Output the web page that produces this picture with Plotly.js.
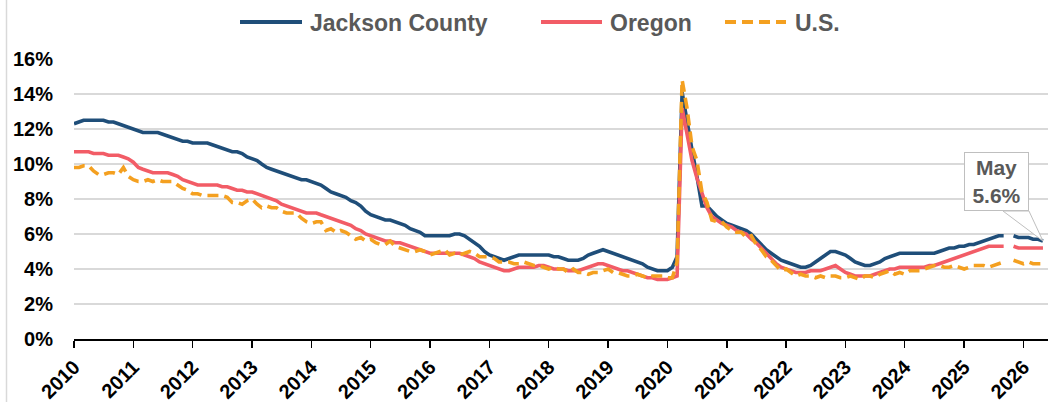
<!DOCTYPE html>
<html>
<head>
<meta charset="utf-8">
<script src="https://cdn.plot.ly/plotly-3.0.1.min.js"></script>
<style>
html,body{margin:0;padding:0;background:#fff;}
#chart{width:1062px;height:402px;}
</style>
</head>
<body>
<div id="chart"></div>
<script>
// Monthly unemployment rate (%), Jan 2010 - May 2026 (Oct 2025 not published)
var startYear = 2010;
var seriesNames = ["Jackson County", "Oregon", "U.S."];
var jackson = [
12.3,12.4,12.5,12.5,12.5,12.5,12.5,12.4,12.4,12.3,12.2,12.1,
12.0,11.9,11.8,11.8,11.8,11.8,11.7,11.6,11.5,11.4,11.3,11.3,
11.2,11.2,11.2,11.2,11.1,11.0,10.9,10.8,10.7,10.7,10.6,10.4,
10.3,10.2,10.0,9.8,9.7,9.6,9.5,9.4,9.3,9.2,9.1,9.1,
9.0,8.9,8.8,8.6,8.4,8.3,8.2,8.1,7.9,7.8,7.6,7.3,
7.1,7.0,6.9,6.8,6.8,6.7,6.6,6.5,6.3,6.2,6.1,5.9,
5.9,5.9,5.9,5.9,5.9,6.0,6.0,5.9,5.7,5.5,5.3,5.0,
4.8,4.7,4.6,4.5,4.6,4.7,4.8,4.8,4.8,4.8,4.8,4.8,
4.8,4.7,4.7,4.6,4.5,4.5,4.5,4.6,4.8,4.9,5.0,5.1,
5.0,4.9,4.8,4.7,4.6,4.5,4.4,4.3,4.1,4.0,3.9,3.9,
3.9,4.1,4.7,14.1,12.4,10.8,9.3,7.6,7.6,7.3,7.0,6.8,
6.6,6.5,6.4,6.3,6.2,6.0,5.7,5.4,5.1,4.9,4.7,4.5,
4.4,4.3,4.2,4.1,4.1,4.2,4.4,4.6,4.8,5.0,5.0,4.9,
4.8,4.6,4.4,4.3,4.2,4.2,4.3,4.4,4.6,4.7,4.8,4.9,
4.9,4.9,4.9,4.9,4.9,4.9,4.9,5.0,5.1,5.2,5.2,5.3,
5.3,5.4,5.4,5.5,5.6,5.7,5.8,5.9,5.9,null,5.9,5.8,
5.8,5.8,5.7,5.7,5.6
];
var oregon = [
10.7,10.7,10.7,10.7,10.6,10.6,10.6,10.5,10.5,10.5,10.4,10.3,
10.1,9.8,9.7,9.6,9.5,9.5,9.5,9.5,9.4,9.3,9.1,9.0,
8.9,8.8,8.8,8.8,8.8,8.8,8.7,8.7,8.6,8.5,8.5,8.4,
8.4,8.3,8.2,8.1,8.0,7.9,7.7,7.6,7.5,7.4,7.3,7.2,
7.2,7.2,7.1,7.0,6.9,6.8,6.7,6.6,6.5,6.3,6.2,6.0,
5.9,5.8,5.7,5.6,5.6,5.5,5.5,5.4,5.3,5.2,5.1,5.0,
4.9,4.9,4.9,4.9,4.9,4.9,4.9,4.8,4.7,4.6,4.4,4.3,
4.2,4.1,4.0,3.9,3.9,4.0,4.1,4.1,4.1,4.1,4.2,4.2,
4.1,4.0,4.0,4.0,3.9,3.9,3.9,4.0,4.1,4.2,4.3,4.3,
4.2,4.1,4.0,3.9,3.9,3.8,3.7,3.6,3.5,3.5,3.4,3.4,
3.4,3.5,3.6,13.2,11.6,10.2,9.2,8.3,7.5,7.0,6.8,6.6,
6.5,6.4,6.2,6.1,6.0,5.7,5.5,5.2,4.9,4.6,4.3,4.1,
4.0,3.9,3.8,3.8,3.8,3.9,3.9,3.9,4.0,4.1,4.2,4.0,
3.8,3.7,3.6,3.6,3.6,3.6,3.7,3.8,3.9,4.0,4.0,4.1,
4.1,4.1,4.1,4.1,4.1,4.2,4.2,4.3,4.4,4.5,4.6,4.7,
4.8,4.9,5.0,5.1,5.2,5.3,5.3,5.3,5.3,null,5.3,5.2,
5.2,5.2,5.2,5.2,5.2
];
var us = [
9.8,9.8,9.9,9.9,9.6,9.4,9.4,9.5,9.5,9.4,9.8,9.3,
9.1,9.0,9.0,9.1,9.0,9.1,9.0,9.0,9.0,8.8,8.6,8.5,
8.3,8.3,8.2,8.2,8.2,8.2,8.2,8.1,7.8,7.8,7.7,7.9,
8.0,7.7,7.5,7.6,7.5,7.5,7.3,7.2,7.2,7.2,6.9,6.7,
6.6,6.7,6.7,6.2,6.3,6.1,6.2,6.1,5.9,5.7,5.8,5.6,
5.7,5.5,5.4,5.4,5.6,5.3,5.2,5.1,5.0,5.0,5.1,5.0,
4.8,4.9,5.0,5.1,4.8,4.9,4.8,4.9,5.0,4.9,4.7,4.7,
4.7,4.6,4.4,4.4,4.4,4.3,4.3,4.4,4.3,4.2,4.2,4.1,
4.0,4.1,4.0,4.0,3.8,4.0,3.8,3.8,3.7,3.8,3.8,3.9,
4.0,3.8,3.8,3.7,3.6,3.6,3.7,3.6,3.5,3.6,3.6,3.6,
3.5,3.5,4.4,14.8,13.2,11.0,10.2,8.4,7.8,6.8,6.7,6.7,
6.4,6.2,6.1,6.1,5.8,5.9,5.4,5.1,4.7,4.5,4.2,3.9,
4.0,3.8,3.6,3.7,3.6,3.6,3.5,3.6,3.5,3.6,3.6,3.5,
3.5,3.6,3.5,3.4,3.6,3.6,3.5,3.7,3.8,3.9,3.7,3.8,
3.7,3.9,3.9,3.9,4.0,4.1,4.2,4.2,4.1,4.1,4.2,4.1,
4.0,4.1,4.2,4.2,4.2,4.1,4.2,4.3,4.4,null,4.5,4.4,
4.3,4.4,4.3,4.3,4.3
];
var yTickVals = [0,2,4,6,8,10,12,14,16];
var yTickText = ["0%","2%","4%","6%","8%","10%","12%","14%","16%"];
var calloutMonth = "May";
var calloutValue = "5.6%";

// month dates
var months = [];
for (var i = 0; i < jackson.length; i++) {
  var y = startYear + Math.floor(i / 12);
  var m = (i % 12) + 1;
  months.push(y + "-" + (m < 10 ? "0" + m : m) + "-01");
}
var lastDate = months[months.length - 1];
var lastJackson = jackson[jackson.length - 1];

var colors = ["#1F4E79", "#F25C66", "#F4A020"];
var usDash = "11px,6px";
var FONT = "Liberation Sans, Arial, Helvetica, sans-serif";

var traces = [
  {x: months, y: jackson, name: seriesNames[0], type: "scatter", mode: "lines",
   line: {color: colors[0], width: 3.6}, connectgaps: false, hoverinfo: "skip"},
  {x: months, y: oregon, name: seriesNames[1], type: "scatter", mode: "lines",
   line: {color: colors[1], width: 3.6}, connectgaps: false, hoverinfo: "skip"},
  {x: months, y: us, name: seriesNames[2], type: "scatter", mode: "lines",
   line: {color: colors[2], width: 3.6, dash: usDash}, connectgaps: false, hoverinfo: "skip"}
];

var L = 74, R = 14, T = 59, B = 63, W = 1062, H = 402;
var pw = W - L - R, ph = H - T - B;
function px(v) { return (v - L) / pw; }
function py(v) { return (H - B - v) / ph; }

var legendItems = [
  {x0: 240, x1: 302, tx: 308, dash: "solid"},
  {x0: 541, x1: 602, tx: 608, dash: "solid"},
  {x0: 725, x1: 786, tx: 793, dash: usDash}
];
var legY = 22;

var shapes = [];
var annotations = [];
legendItems.forEach(function (it, k) {
  shapes.push({type: "line", xref: "paper", yref: "paper",
    x0: px(it.x0), x1: px(it.x1), y0: py(legY), y1: py(legY),
    line: {color: colors[k], width: 4, dash: it.dash}});
  annotations.push({xref: "paper", yref: "paper", x: px(it.tx), y: py(legY + 1),
    xanchor: "left", yanchor: "middle", showarrow: false, text: seriesNames[k],
    font: {family: FONT, size: 23, color: "#595959", weight: "bold"}});
});

// left chart frame
shapes.push({type: "line", xref: "paper", yref: "paper",
  x0: px(6.5), x1: px(6.5), y0: py(H + 5), y1: py(-5),
  line: {color: "#D9D9D9", width: 1.5}});

// callout pointer
shapes.push({type: "path", xref: "x", yref: "y",
  xsizemode: "pixel", ysizemode: "pixel",
  xanchor: lastDate, yanchor: lastJackson,
  path: "M-40,30 L0,0 L-14,30 Z",
  fillcolor: "#FFFFFF", line: {color: "#BFBFBF", width: 1}});

annotations.push({xref: "paper", yref: "paper", x: px(996.5), y: py(181),
  xanchor: "center", yanchor: "middle", showarrow: false,
  text: calloutMonth + "<br>" + calloutValue,
  width: 63, height: 57, borderpad: 0,
  bgcolor: "#FFFFFF", bordercolor: "#BFBFBF", borderwidth: 1,
  font: {family: FONT, size: 21, color: "#595959", weight: "bold"}});

var layout = {
  width: W, height: H,
  margin: {l: L, r: R, t: T, b: B, pad: 0},
  paper_bgcolor: "#FFFFFF", plot_bgcolor: "#FFFFFF",
  showlegend: false,
  font: {family: FONT, color: "#000000"},
  xaxis: {
    type: "date", range: ["2010-01-01", "2026-06-01"],
    tick0: "2010-01-01", dtick: "M12", tickformat: "%Y",
    tickangle: -45, tickfont: {family: FONT, size: 20, color: "#000", weight: "bold"},
    showgrid: false, zeroline: false,
    showline: true, linecolor: "#000000", linewidth: 1.5,
    ticks: "outside", ticklen: 7, tickwidth: 1.5, tickcolor: "#000000",
    fixedrange: true
  },
  xaxis2: {
    type: "date", range: ["2010-01-01", "2026-06-01"], overlaying: "x", anchor: "y",
    tick0: "2010-01-01", dtick: "M12",
    showgrid: false, zeroline: false, showline: false, showticklabels: false,
    ticks: "inside", ticklen: 6, tickwidth: 1.5, tickcolor: "#000000"
  },
  yaxis: {
    range: [0, 16], tickvals: yTickVals, ticktext: yTickText,
    tickfont: {family: FONT, size: 20, color: "#000", weight: "bold"},
    showgrid: true, gridcolor: "#D9D9D9", gridwidth: 1.5,
    zeroline: false, showline: false, ticks: "", ticklabelstandoff: 20,
    fixedrange: true
  },
  shapes: shapes,
  annotations: annotations
};

Plotly.newPlot("chart", traces, layout, {displayModeBar: false, staticPlot: true});
</script>
</body>
</html>
